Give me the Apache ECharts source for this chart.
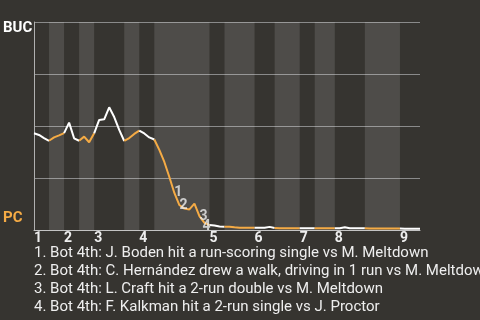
<!DOCTYPE html>
<html>
<head>
<meta charset="utf-8">
<script src="https://cdn.jsdelivr.net/npm/echarts@6/dist/echarts.min.js"></script>
<style>
html,body{margin:0;padding:0;background:#363430;}
#chart{width:480px;height:320px;}
</style>
</head>
<body>
<div id="chart"></div>
<script>
// BUC win probability (%) after each play, index = play number
const winProb = [
  46.5, 45.7, 44.2, 42.9,
  44.5, 45.5, 46.6,
  51.6, 44.1, 42.9,
  44.9, 42.2, 46.5,
  52.9, 53.2, 59.0, 54.3, 48.1, 42.8,
  44.2, 46.2, 47.8,
  46.4, 44.5, 43.5,
  38.5, 32.7, 25.5, 17.8, 12.0, 10.3, 9.9, 12.7, 6.7, 3.4, 2.4,
  2.2, 1.7, 1.6,
  1.6, 1.3, 1.1, 1.1, 1.1, 1.1,
  1.1, 1.1, 1.5, 1.0,
  0.8, 0.8, 0.8, 0.8, 0.8,
  0.8, 0.8, 0.8,
  0.8, 0.8, 0.8, 0.8,
  0.8, 1.3, 0.8, 0.8, 0.8, 0.8,
  0.7, 0.7, 0.7, 0.7, 0.7, 0.7, 0.7,
  0.6, 0.6, 0.6, 0.6
];
// play index where each half-inning begins (last entry = end of game)
const halfInningStarts = [0, 3, 6, 9, 12, 18, 21, 24, 35, 38, 44, 48, 53, 56, 60, 66, 73, 77];
const inningLabels = ['1', '2', '3', '4', '5', '6', '7', '8', '9'];
const annotatedPlays = [28, 29, 33, 34];
const annotationMarks = ['1', '2', '3', '4'];
const annotationTexts = [
  '1. Bot 4th: J. Boden hit a run-scoring single vs M. Meltdown',
  '2. Bot 4th: C. Hernández drew a walk, driving in 1 run vs M. Meltdown',
  '3. Bot 4th: L. Craft hit a 2-run double vs M. Meltdown',
  '4. Bot 4th: F. Kalkman hit a 2-run single vs J. Proctor'
];
const teams = { top: 'BUC', bottom: 'PC' };

const WHITE = '#ffffff';
const ORANGE = '#f5ab45';
const FONT = 'Roboto, "Noto Sans", sans-serif';

const inningTicks = [];
for (let i = 0; i < halfInningStarts.length - 1; i += 2) inningTicks.push(halfInningStarts[i]);

const series = [];
// background bands for bottom halves
const bands = [];
for (let h = 1; h < halfInningStarts.length - 1; h += 2) {
  bands.push([{ xAxis: halfInningStarts[h] }, { xAxis: halfInningStarts[h + 1] }]);
}
series.push({
  type: 'line', data: [], z: 1, silent: true,
  markArea: { silent: true, itemStyle: { color: 'rgba(255,255,255,0.12)' }, data: bands }
});
for (let h = 0; h < halfInningStarts.length - 1; h++) {
  const s = halfInningStarts[h], e = halfInningStarts[h + 1];
  const pts = [];
  for (let k = s; k <= e; k++) pts.push([k, winProb[k]]);
  series.push({
    type: 'line', data: pts, z: 3, symbol: 'none', silent: true,
    lineStyle: { color: h % 2 === 0 ? WHITE : ORANGE, width: 2 }
  });
}
series.push({
  type: 'scatter', z: 5, symbolSize: 0, silent: true,
  data: annotatedPlays.map((k, i) => ({
    value: [k, winProb[k]], name: annotationMarks[i],
    label: i === 3 ? { offset: [-2, 4] } : undefined
  })),
  label: {
    show: true, position: 'right', distance: 0, formatter: p => p.name,
    color: '#eeeeee', fontWeight: 'bold', fontSize: 14, fontFamily: FONT
  }
});

const chart = echarts.init(document.getElementById('chart'), null, { renderer: 'canvas' });
chart.setOption({
  backgroundColor: '#363430',
  animation: false,
  grid: { left: 34, right: 60, top: 22, bottom: 90 },
  title: {
    text: annotationTexts.join('\n'),
    left: 34, top: 244, padding: 0,
    textStyle: { color: '#eeeeee', fontSize: 15, fontWeight: 'normal', lineHeight: 18, fontFamily: FONT }
  },
  xAxis: {
    type: 'value', min: 0, max: halfInningStarts[halfInningStarts.length - 1],
    splitLine: { show: false },
    axisLine: { show: true, lineStyle: { color: '#c4c4c4', width: 1 } },
    axisTick: { show: false },
    axisLabel: {
      customValues: inningTicks,
      formatter: v => inningLabels[inningTicks.indexOf(v)] || '',
      align: 'left', margin: 1,
      color: '#eeeeee', fontWeight: 'bold', fontSize: 14, fontFamily: FONT
    }
  },
  yAxis: {
    type: 'value', min: 0, max: 100, interval: 25,
    axisLine: { show: true, lineStyle: { color: '#b0b0b0' } },
    axisTick: { show: false },
    axisLabel: { show: false },
    splitLine: { lineStyle: { color: '#8a8a8a', width: 1 } }
  },
  graphic: [
    { type: 'text', left: 3, top: 21, style: { text: teams.top, fill: WHITE, font: 'bold 15px ' + FONT } },
    { type: 'text', left: 3, top: 211, style: { text: teams.bottom, fill: ORANGE, font: 'bold 15px ' + FONT } }
  ],
  series: series
});
</script>
</body>
</html>
